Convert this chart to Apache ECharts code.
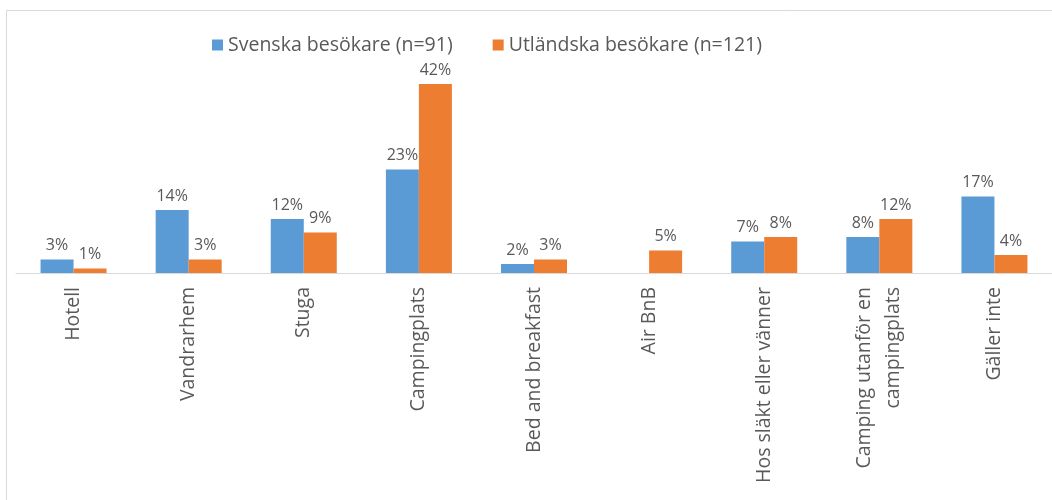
<!DOCTYPE html>
<html lang="sv">
  <head>
    <meta charset="UTF-8">
    <title>Boende</title>
    <style>
      html, body { margin: 0; padding: 0; background: #fff; }
      #chart { width: 1052px; height: 500px; }
    </style>
  </head>
  <body>
    <div id="chart"></div>
    <script src="https://cdn.jsdelivr.net/npm/echarts@6/dist/echarts.min.js"></script>
    <script type="text/javascript">
      var categories = ['Hotell', 'Vandrarhem', 'Stuga', 'Campingplats', 'Bed and breakfast',
        'Air BnB', 'Hos släkt eller vänner', 'Camping utanför en\ncampingplats', 'Gäller inte'];
      var seriesNames = ['Svenska besökare (n=91)', 'Utländska besökare (n=121)'];
      var svenska = [3, 14, 12, 23, 2, null, 7, 8, 17];
      var utlandska = [1, 3, 9, 42, 3, 5, 8, 12, 4];

      var font = '"Open Sans", sans-serif';
      var grey = '#595959';

      var myChart = echarts.init(document.getElementById('chart'));

      function barSeries(name, data, color) {
        return {
          name: name,
          type: 'bar',
          data: data,
          barWidth: 33,
          barGap: '0%',
          itemStyle: { color: color },
          label: {
            show: true,
            position: 'top',
            distance: 6,
            formatter: '{c}%',
            color: grey,
            fontFamily: font,
            fontSize: 16
          }
        };
      }

      var option = {
        backgroundColor: '#fff',
        animation: false,
        graphic: [{
          type: 'rect',
          shape: { x: 6.5, y: 10.5, width: 1200, height: 700 },
          style: { fill: 'none', stroke: '#d9d9d9', lineWidth: 1 },
          silent: true
        }],
        legend: {
          data: seriesNames,
          left: 207,
          top: 30,
          itemWidth: 11,
          itemHeight: 11,
          itemGap: 40,
          icon: 'rect',
          textStyle: { color: grey, fontFamily: font, fontSize: 19.5 }
        },
        grid: { left: 16, top: 48, width: 1040, height: 225 },
        xAxis: {
          type: 'category',
          data: categories,
          axisLine: { lineStyle: { color: '#d9d9d9' } },
          axisTick: { show: false },
          axisLabel: {
            rotate: 90,
            interval: 0,
            margin: 14,
            color: grey,
            fontFamily: font,
            fontSize: 19.5,
            lineHeight: 29
          }
        },
        yAxis: {
          type: 'value',
          min: 0,
          max: 50,
          show: false
        },
        series: [
          barSeries(seriesNames[0], svenska, '#5b9bd5'),
          barSeries(seriesNames[1], utlandska, '#ed7d31')
        ]
      };

      myChart.setOption(option);
    </script>
  </body>
</html>
